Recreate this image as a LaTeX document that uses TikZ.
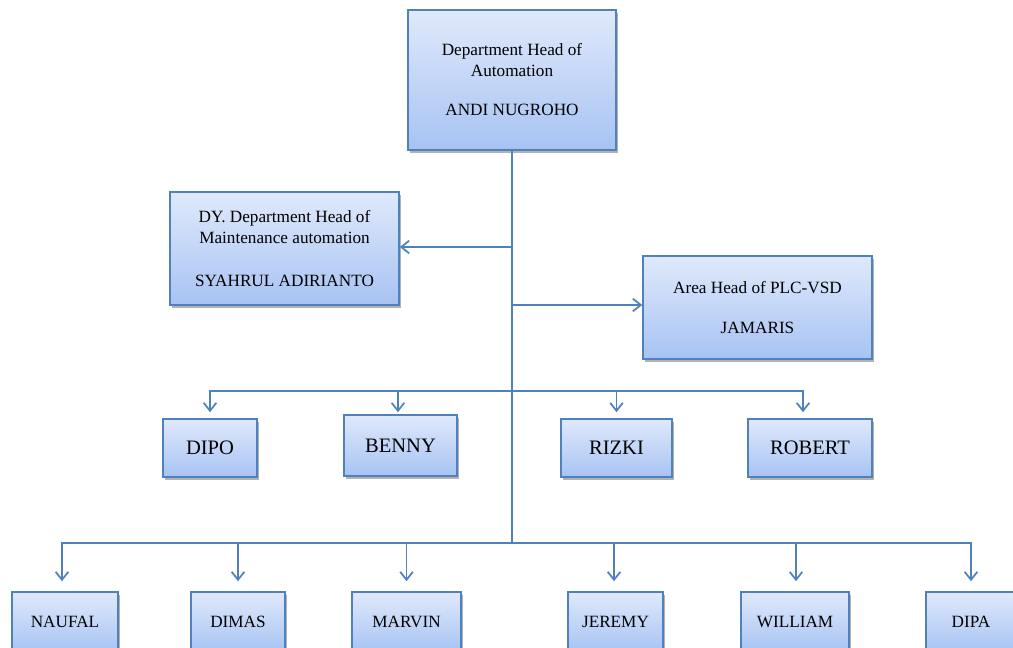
\documentclass[tikz,border=0pt]{standalone}
\usepackage{fontspec}
\setmainfont{Liberation Serif}
\usetikzlibrary{arrows.meta,shadows}
\definecolor{lineblue}{HTML}{4F81BD}
\definecolor{filltop}{HTML}{E0E9FB}
\definecolor{fillbot}{HTML}{A7C3F3}
\begin{document}
\begin{tikzpicture}[x=0.75pt,y=-0.75pt,
  box/.style={draw=lineblue, line width=1.2pt, top color=filltop, bottom color=fillbot,
    inner sep=0pt, align=center, text=black,
    drop shadow={shadow xshift=1.2pt, shadow yshift=-2pt, opacity=0.3, fill=black},
    font=\fontsize{12.9}{15.5}\selectfont},
  midbox/.style={box, font=\fontsize{15.4}{18}\selectfont},
  link/.style={draw=lineblue, line width=1.3pt},
  arr/.style={link, -{Straight Barb[length=6pt,width=9.5pt,line width=1.3pt]}}]
\useasboundingbox (0,0) rectangle (1013,648);
\clip (0,0) rectangle (1013,648);
\fill[white] (0,0) rectangle (1013,648);
% boxes
\node[box, minimum width=156pt, minimum height=105pt] (top) at (512,80)
  {Department Head of\\Automation\\[14pt]ANDI NUGROHO};
\node[box, minimum width=171.75pt, minimum height=84.75pt] (dy) at (284.5,248.5)
  {DY. Department Head of\\Maintenance automation\\[17pt]SYAHRUL ADIRIANTO};
\node[box, minimum width=171.75pt, minimum height=77.25pt] (area) at (757.5,307.5)
  {Area Head of PLC-VSD\\[14pt]JAMARIS};
% middle row
\node[midbox, minimum width=70.5pt, minimum height=43.5pt] (dipo) at (210,448) {DIPO};
\node[midbox, minimum width=84.75pt, minimum height=45.75pt] (benny) at (400.5,445.5) {BENNY};
\node[midbox, minimum width=83.25pt, minimum height=43.5pt] (rizki) at (616.5,448) {RIZKI};
\node[midbox, minimum width=93pt, minimum height=43.5pt] (robert) at (810,448) {ROBERT};
% bottom row
\node[box, minimum width=79.5pt, minimum height=45pt] (naufal) at (65,622) {NAUFAL};
\node[box, minimum width=70.5pt, minimum height=45pt] (dimas) at (238,622) {DIMAS};
\node[box, minimum width=81.75pt, minimum height=45pt] (marvin) at (406.5,622) {MARVIN};
\node[box, minimum width=71.25pt, minimum height=45pt] (jeremy) at (615.5,622) {JEREMY};
\node[box, minimum width=81pt, minimum height=45pt] (william) at (795,622) {WILLIAM};
\node[box, minimum width=67.5pt, minimum height=45pt] (dipa) at (971,622) {DIPA};
% junctions
\coordinate (j1) at (512,247);
\coordinate (j2) at (512,305);
\coordinate (j3) at (512,391);
\coordinate (j4) at (512,543);
% connectors
\draw[link] (top.south) -- (j4);
\draw[arr] (j1) -- (dy.east |- j1);
\draw[arr] (j2) -- (area.west |- j2);
\draw[arr, shorten >=4.5pt] (j3) -| (dipo.north);
\draw[arr, shorten >=1.5pt] (j3) -| ([xshift=-1.9pt]benny.north);
\draw[arr, shorten >=4.5pt] (j3) -| (rizki.north);
\draw[arr, shorten >=4.5pt] (j3) -| ([xshift=-5.25pt]robert.north);
\draw[arr, shorten >=7.5pt] (j4) -| ([xshift=-2.25pt]naufal.north);
\draw[arr, shorten >=7.5pt] (j4) -| (dimas.north);
\draw[arr, shorten >=7.5pt] (j4) -| (marvin.north);
\draw[arr, shorten >=7.5pt] (j4) -| ([xshift=-1.1pt]jeremy.north);
\draw[arr, shorten >=7.5pt] (j4) -| ([xshift=0.75pt]william.north);
\draw[arr, shorten >=7.5pt] (j4) -| (dipa.north);
\end{tikzpicture}
\end{document}
